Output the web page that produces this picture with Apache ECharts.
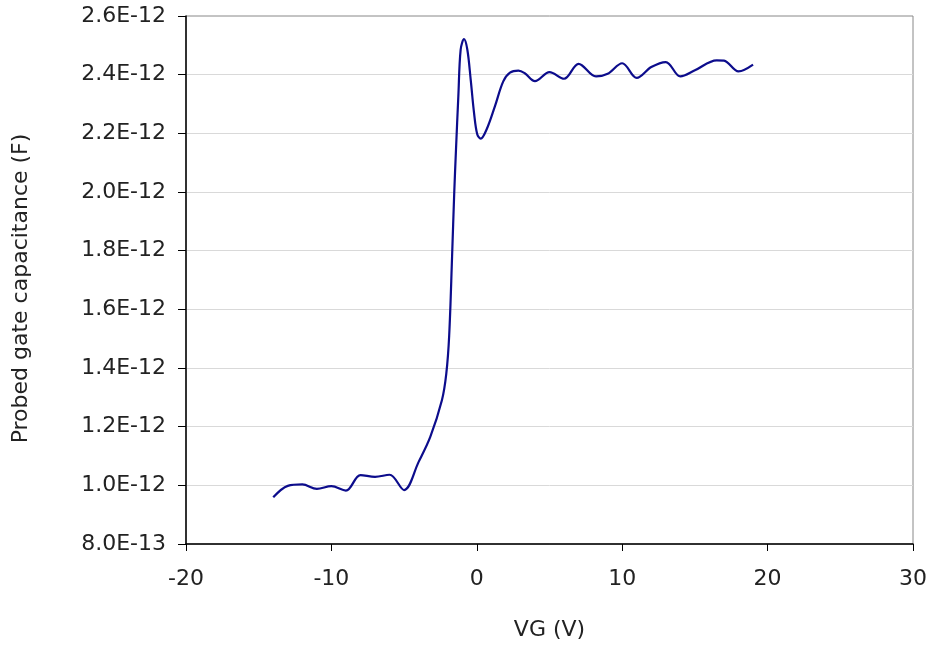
<!DOCTYPE html>
<html>
<head>
<meta charset="utf-8">
<script src="https://cdn.jsdelivr.net/npm/echarts@6/dist/echarts.min.js"></script>
<style>html,body{margin:0;padding:0;background:#fff;}#c{width:931px;height:646px;}</style>
</head>
<body>
<div id="c"></div>
<script>
// Gate voltage (V)
const vg = [-14, -13, -12, -11, -10, -9, -8, -7, -6, -5, -4, -3.2, -2.4, -2.1, -1.9, -1.7, -1.55, -1.43, -1.27, -1.11, -0.88, -0.65, -0.42, -0.19, 0.03, 0.27, 0.68, 1.25, 1.82, 2.28, 2.86, 3.3, 4, 5, 6, 7, 8.2, 9, 10, 11, 12, 13, 14, 15, 16.5, 17, 18, 19];
// Probed gate capacitance (F)
const cap = [0.959e-12, 0.998e-12, 1.003e-12, 0.988e-12, 0.997e-12, 0.982e-12, 1.035e-12, 1.029e-12, 1.036e-12, 0.984e-12, 1.08e-12, 1.165e-12, 1.29e-12, 1.38e-12, 1.51e-12, 1.78e-12, 2.0e-12, 2.146e-12, 2.326e-12, 2.485e-12, 2.521e-12, 2.485e-12, 2.383e-12, 2.270e-12, 2.197e-12, 2.182e-12, 2.214e-12, 2.293e-12, 2.377e-12, 2.407e-12, 2.414e-12, 2.405e-12, 2.378e-12, 2.409e-12, 2.386e-12, 2.437e-12, 2.394e-12, 2.403e-12, 2.439e-12, 2.389e-12, 2.426e-12, 2.443e-12, 2.394e-12, 2.415e-12, 2.449e-12, 2.448e-12, 2.411e-12, 2.434e-12];
const xTicks = [-20, -10, 0, 10, 20, 30];
const yTicks = ['8.0E-13','1.0E-12','1.2E-12','1.4E-12','1.6E-12','1.8E-12','2.0E-12','2.2E-12','2.4E-12','2.6E-12'];

const font = 'DejaVu Sans';
const chart = echarts.init(document.getElementById('c'));
chart.setOption({
  animation: false,
  backgroundColor: '#fff',
  grid: { left: 186, right: 18, top: 16, bottom: 99, show: true, borderColor: '#888', borderWidth: 1, backgroundColor: 'transparent' },
  xAxis: {
    type: 'value', min: xTicks[0], max: xTicks[xTicks.length - 1], interval: 10,
    name: 'VG (V)', nameLocation: 'middle', nameGap: 75,
    nameTextStyle: { fontFamily: font, fontSize: 22, color: '#222' },
    axisLine: { show: true, onZero: false, lineStyle: { color: '#000', width: 1.5 } },
    axisTick: { show: true, inside: false, length: 7, lineStyle: { color: '#000' } },
    axisLabel: { fontFamily: font, fontSize: 22, color: '#222', margin: 24 },
    splitLine: { show: false }
  },
  yAxis: {
    type: 'value', min: 0.8e-12, max: 2.6e-12, interval: 0.2e-12,
    name: 'Probed gate capacitance (F)', nameLocation: 'middle', nameGap: 154, nameRotate: 90,
    nameTextStyle: { fontFamily: font, fontSize: 22, color: '#222', padding: [0, 17, 0, 0] },
    axisLine: { show: true, onZero: false, lineStyle: { color: '#000', width: 1.5 } },
    axisTick: { show: true, inside: false, length: 8, lineStyle: { color: '#000' } },
    axisLabel: {
      fontFamily: font, fontSize: 22, color: '#222', margin: 20,
      formatter: function (v) { return Number(v).toExponential(1).toUpperCase(); }
    },
    splitLine: { show: true, showMaxLine: false, showMinLine: false, lineStyle: { color: '#d9d9d9', width: 1 } }
  },
  series: [{
    type: 'line', smooth: 0.35, symbol: 'none',
    data: vg.map((x, i) => [x, cap[i]]),
    lineStyle: { color: '#0c0c8c', width: 2.2 }
  }]
});
</script>
</body>
</html>
